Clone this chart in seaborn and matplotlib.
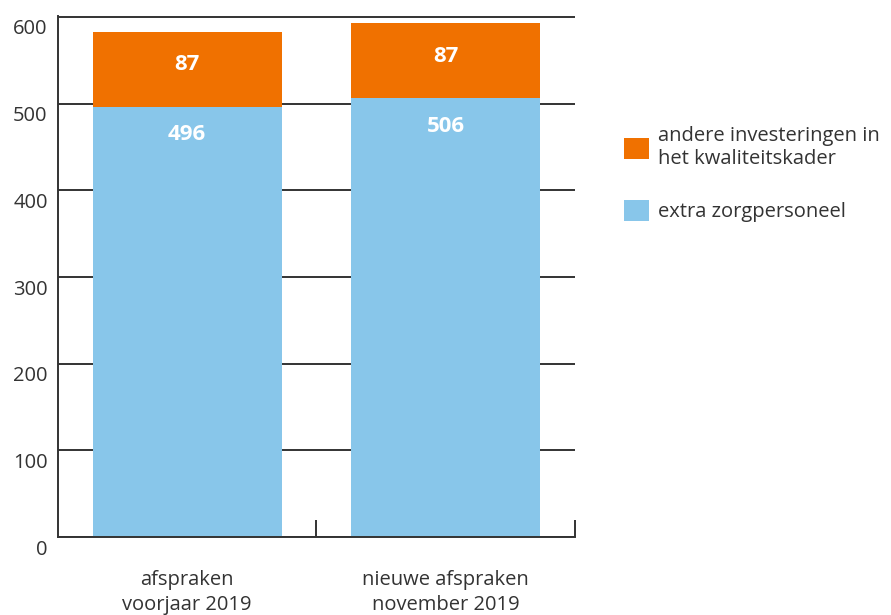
import numpy as np
import pandas as pd
import seaborn as sns
import matplotlib.pyplot as plt

# data
categories = ["afspraken\nvoorjaar 2019", "nieuwe afspraken\nnovember 2019"]
personeel = [496, 506]
overig = [87, 87]
series_names = ["andere investeringen in\nhet kwaliteitskader", "extra zorgpersoneel"]
yticks = [0, 100, 200, 300, 400, 500, 600]

blue = "#88c6ea"
orange = "#f07100"
dark = "#333333"

sns.set_style("white")
plt.rcParams["font.family"] = ["Open Sans", "DejaVu Sans"]

df = pd.DataFrame({"cat": categories, "personeel": personeel, "overig": overig})
df["totaal"] = df["personeel"] + df["overig"]

fig = plt.figure(figsize=(8.91, 6.15), dpi=100)
ax = fig.add_axes([0.0651, 0.1268, 0.5802, 0.8472])

sns.barplot(data=df, x="cat", y="totaal", color=orange, width=0.73,
            saturation=1, ax=ax, label=series_names[0], linewidth=0)
sns.barplot(data=df, x="cat", y="personeel", color=blue, width=0.73,
            saturation=1, ax=ax, label=series_names[1], linewidth=0)

for i, row in df.iterrows():
    ax.text(i, row["personeel"] + row["overig"] / 2 + 5, str(row["overig"]),
            ha="center", va="center", color="white", fontsize=16, fontweight="bold")
    ax.text(i, row["personeel"] - 32, str(row["personeel"]),
            ha="center", va="center", color="white", fontsize=16, fontweight="bold")

ax.set_xlim(-0.5, 1.5)
ax.set_ylim(0, 601)
ax.set_yticks(yticks)
ax.set_yticklabels([])
ax.tick_params(axis="y", length=0)
for v in yticks:
    ax.text(-0.02, v - 3, str(v), transform=ax.get_yaxis_transform(),
            ha="right", va="top", fontsize=14.5, color=dark)
ax.grid(axis="y", color=dark, linewidth=1.4)
ax.set_axisbelow(True)

ax.set_xticks([0, 1])
ax.set_xticklabels(categories, fontsize=14.5, color=dark, linespacing=1.3)
ax.tick_params(axis="x", which="major", length=0, pad=24)
ax.set_xticks([0.5, 1.5], minor=True)
ax.tick_params(axis="x", which="minor", bottom=True, direction="in",
               length=12, width=1.4, color=dark)
ax.set_xlabel("")
ax.set_ylabel("")

for s in ["top", "right"]:
    ax.spines[s].set_visible(False)
for s in ["left", "bottom"]:
    ax.spines[s].set_color(dark)
    ax.spines[s].set_linewidth(1.4)

handles, labels = ax.get_legend_handles_labels()
ax.legend(handles, labels, loc="upper left", bbox_to_anchor=(1.06, 0.823),
          frameon=False, fontsize=14.5, handlelength=1.25, handleheight=1.25,
          handletextpad=0.45, labelspacing=1.5, labelcolor=dark)

fig.savefig("out.png", dpi=100)
